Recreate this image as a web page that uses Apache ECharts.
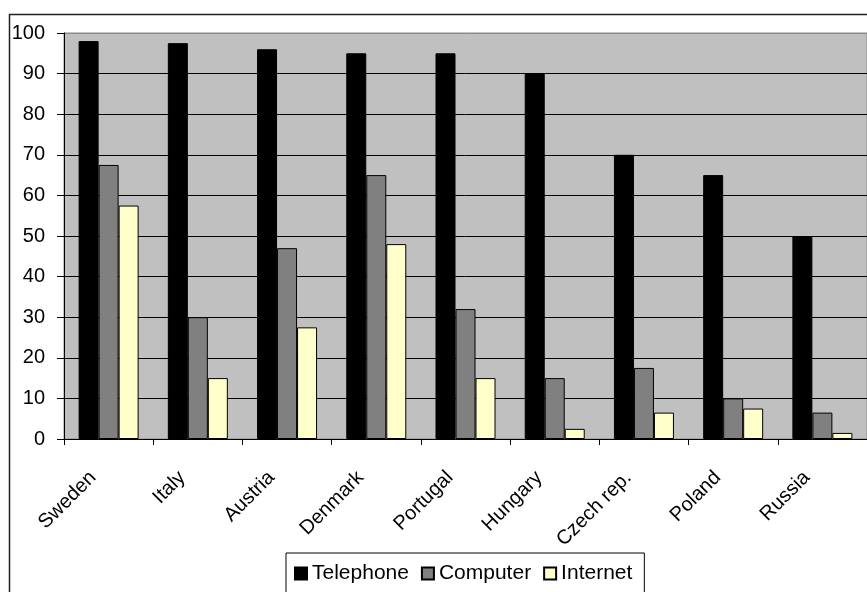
<!DOCTYPE html>
<html>
<head>
<meta charset="utf-8">
<script src="https://cdn.jsdelivr.net/npm/echarts@6/dist/echarts.min.js"></script>
<style>
  html, body { margin: 0; padding: 0; background: #fff; }
  #chart { width: 867px; height: 592px; }
</style>
</head>
<body>
<div id="chart"></div>
<script>
// Household equipment by country (% of households)
const countries = ['Sweden', 'Italy', 'Austria', 'Denmark', 'Portugal', 'Hungary', 'Czech rep.', 'Poland', 'Russia'];
const telephone = [98, 97.5, 96, 95, 95, 90, 70, 65, 50];
const computer = [67.5, 30, 47, 65, 32, 15, 17.5, 10, 6.5];
const internet = [57.5, 15, 27.5, 48, 15, 2.5, 6.5, 7.5, 1.5];
const yTicks = [0, 10, 20, 30, 40, 50, 60, 70, 80, 90, 100];

const FONT = '"Liberation Sans", Arial, sans-serif';

// gridline colours: black inside the plot, grey along its top edge
const splitColors = yTicks.map((v, i) => (i === yTicks.length - 1 ? '#8a8a8a' : '#000'));

const chart = echarts.init(document.getElementById('chart'), null, { renderer: 'canvas' });

function barSeries(name, data, color) {
  return {
    name: name,
    type: 'bar',
    data: data,
    barWidth: 20,
    barGap: '0%',
    itemStyle: { color: color, borderColor: '#000', borderWidth: 1 },
    emphasis: { disabled: true }
  };
}

chart.setOption({
  animation: false,
  backgroundColor: '#fff',
  textStyle: { fontFamily: FONT },
  graphic: [{
    type: 'rect',
    left: 7,
    top: 12,
    shape: { width: 900, height: 620 },
    style: { fill: 'none', stroke: '#222', lineWidth: 1.5 },
    silent: true,
    z: -1
  }],
  grid: {
    left: 64,
    top: 33,
    right: -12,
    bottom: 153,
    show: true,
    backgroundColor: '#C0C0C0',
    borderColor: '#8a8a8a',
    borderWidth: 1,
    containLabel: false
  },
  legend: {
    left: 286,
    top: 553,
    padding: [10, 12, 10, 8],
    borderColor: '#000',
    borderWidth: 1,
    icon: 'rect',
    itemWidth: 12,
    itemHeight: 12,
    itemGap: 12,
    textStyle: { fontSize: 21, color: '#000', fontFamily: FONT },
    data: ['Telephone', 'Computer', 'Internet']
  },
  xAxis: {
    type: 'category',
    data: countries,
    boundaryGap: true,
    axisLine: { show: true, lineStyle: { color: '#000', width: 1 } },
    axisTick: { show: true, length: 6, inside: false, alignWithLabel: false, lineStyle: { color: '#000' } },
    axisLabel: {
      rotate: 45,
      interval: 0,
      margin: 20,
      padding: [0, 22, 0, 0],
      fontSize: 20,
      color: '#000',
      fontFamily: FONT
    },
    splitLine: { show: false }
  },
  yAxis: {
    type: 'value',
    min: yTicks[0],
    max: yTicks[yTicks.length - 1],
    interval: 10,
    axisLine: { show: true, lineStyle: { color: '#000', width: 1 } },
    axisTick: { show: true, length: 7, inside: false, lineStyle: { color: '#000' } },
    axisLabel: { margin: 19, fontSize: 20, color: '#000', fontFamily: FONT },
    splitLine: { show: true, lineStyle: { color: splitColors, width: 1 } }
  },
  series: [
    barSeries('Telephone', telephone, '#000000'),
    barSeries('Computer', computer, '#808080'),
    barSeries('Internet', internet, '#FFFFCC')
  ]
});
</script>
</body>
</html>
